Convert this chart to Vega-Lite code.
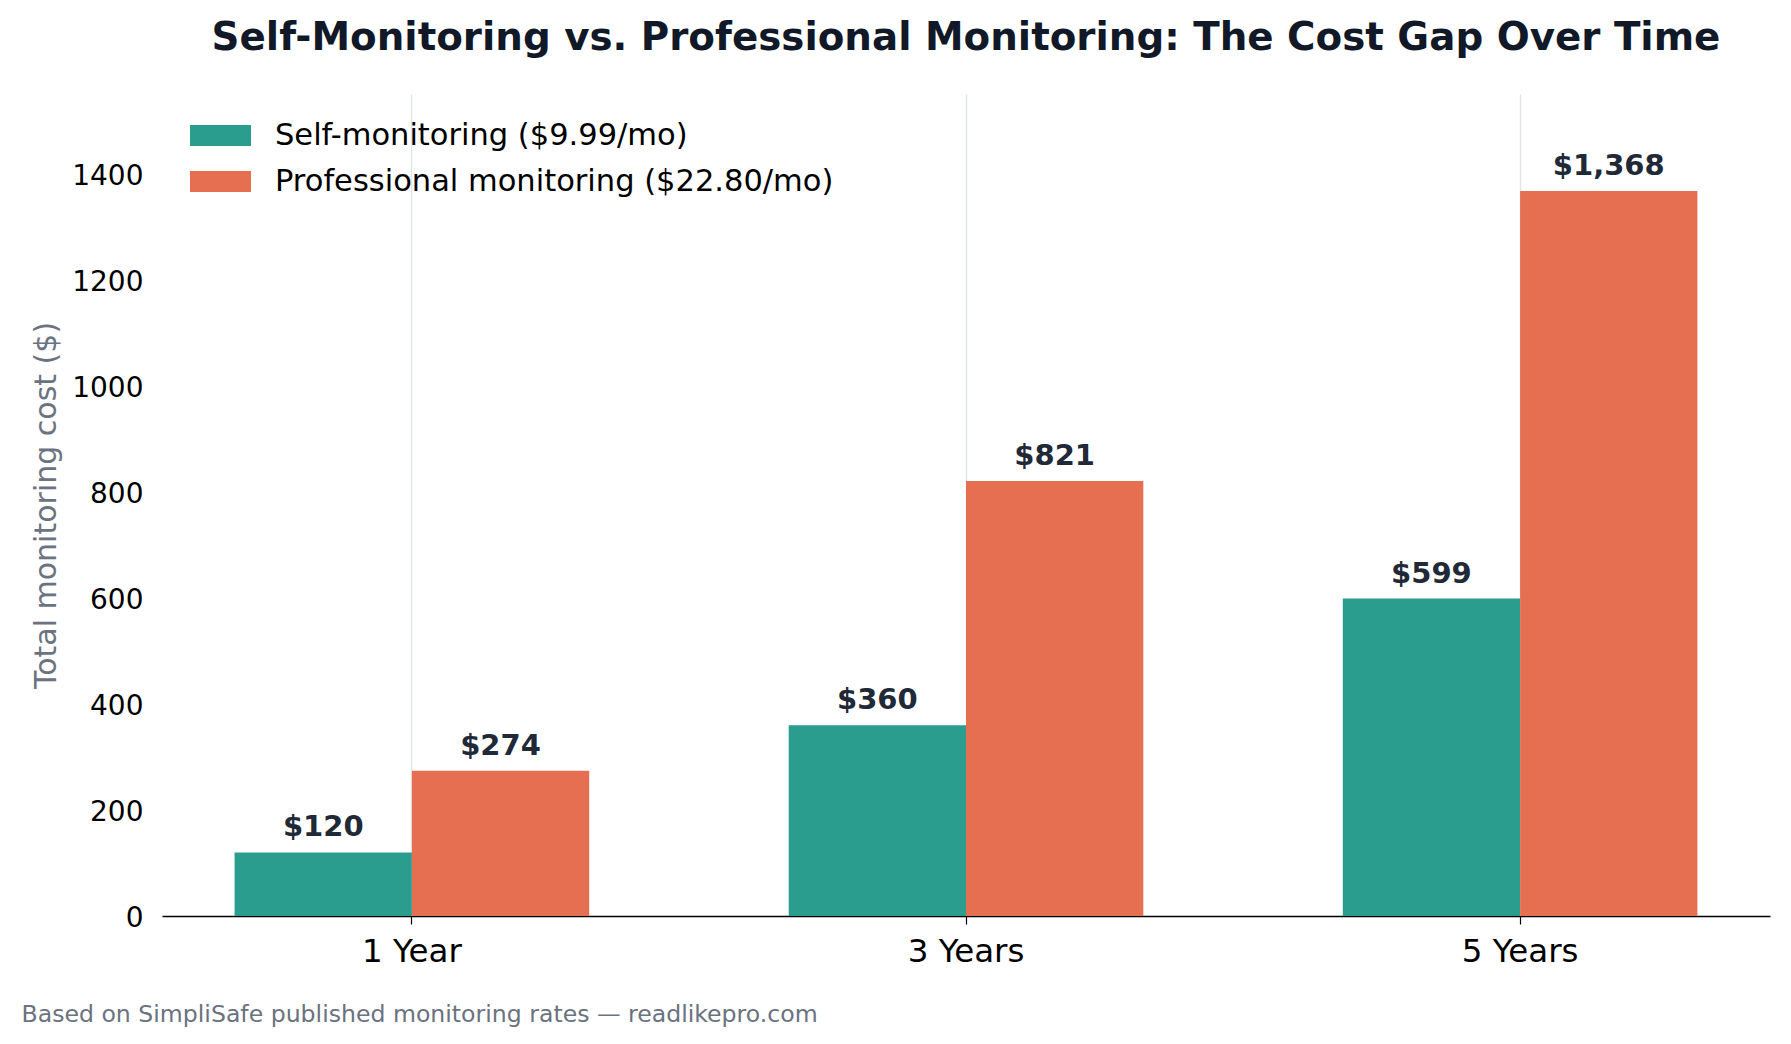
{
  "$schema": "https://vega.github.io/schema/vega-lite/v6.json",
  "autosize": {"type": "none"},
  "padding": {"left": 162, "top": 94, "right": 21, "bottom": 128},
  "width": 1608,
  "height": 822,
  "background": "white",
  "config": {
    "view": {"stroke": null},
    "font": "DejaVu Sans"
  },
  "title": {
    "text": "Self-Monitoring vs. Professional Monitoring: The Cost Gap Over Time",
    "font": "DejaVu Sans",
    "fontSize": 38.8,
    "fontWeight": "bold",
    "color": "#111827",
    "anchor": "middle",
    "offset": 36
  },
  "data": {
    "values": [
      {"period": "1 Year", "plan": "Self-monitoring ($9.99/mo)", "cost": 120},
      {"period": "1 Year", "plan": "Professional monitoring ($22.80/mo)", "cost": 274},
      {"period": "3 Years", "plan": "Self-monitoring ($9.99/mo)", "cost": 360},
      {"period": "3 Years", "plan": "Professional monitoring ($22.80/mo)", "cost": 821},
      {"period": "5 Years", "plan": "Self-monitoring ($9.99/mo)", "cost": 599},
      {"period": "5 Years", "plan": "Professional monitoring ($22.80/mo)", "cost": 1368}
    ]
  },
  "encoding": {
    "x": {
      "field": "period",
      "type": "nominal",
      "sort": ["1 Year", "3 Years", "5 Years"],
      "scale": {"paddingInner": 0.36, "paddingOuter": 0.131},
      "axis": {
        "title": "Based on SimpliSafe published monitoring rates — readlikepro.com",
        "titleFont": "DejaVu Sans",
        "titleFontSize": 23.6,
        "titleFontWeight": "normal",
        "titleColor": "#6b7280",
        "titleAnchor": "start",
        "titleAlign": "left",
        "titleX": -141,
        "titleY": 86,
        "labelAngle": 0,
        "labelFont": "DejaVu Sans",
        "labelFontSize": 32.5,
        "labelColor": "#000000",
        "labelPadding": 11,
        "domainColor": "#000000",
        "domainWidth": 1.6,
        "tickColor": "#000000",
        "tickSize": 8,
        "tickWidth": 1.2,
        "bandPosition": 0.5,
        "grid": true,
        "gridColor": "#e2e4e8",
        "gridWidth": 1.4,
        "zindex": 0
      }
    },
    "xOffset": {
      "field": "plan",
      "type": "nominal",
      "sort": ["Self-monitoring ($9.99/mo)", "Professional monitoring ($22.80/mo)"],
      "scale": {"paddingInner": 0, "paddingOuter": 0}
    },
    "y": {
      "field": "cost",
      "type": "quantitative",
      "scale": {"domain": [0, 1551], "nice": false},
      "axis": {
        "title": "Total monitoring cost ($)",
        "titleFont": "DejaVu Sans",
        "titleFontSize": 30,
        "titleFontWeight": "normal",
        "titleColor": "#6b7280",
        "titlePadding": 10,
        "values": [0, 200, 400, 600, 800, 1000, 1200, 1400],
        "format": "d",
        "labelFont": "DejaVu Sans",
        "labelFontSize": 28,
        "labelColor": "#000000",
        "labelPadding": 19,
        "labelOffset": 2,
        "ticks": false,
        "domain": false,
        "grid": false
      }
    }
  },
  "layer": [
    {
      "mark": {"type": "bar"},
      "encoding": {
        "color": {
          "field": "plan",
          "type": "nominal",
          "scale": {
            "domain": ["Self-monitoring ($9.99/mo)", "Professional monitoring ($22.80/mo)"],
            "range": ["#2a9d8f", "#e76f51"]
          },
          "legend": {
            "title": null,
            "orient": "none",
            "legendX": 28,
            "legendY": 11,
            "symbolType": "M-1,-0.344L1,-0.344L1,0.344L-1,0.344Z",
            "symbolSize": 3721,
            "symbolStrokeWidth": 0,
            "symbolOpacity": 1,
            "labelFont": "DejaVu Sans",
            "labelFontSize": 30.5,
            "labelColor": "#000000",
            "labelOffset": 24,
            "labelLimit": 1000,
            "rowPadding": -4
          }
        }
      }
    },
    {
      "mark": {
        "type": "text",
        "baseline": "bottom",
        "dy": -10,
        "font": "DejaVu Sans",
        "fontSize": 29,
        "fontWeight": "bold",
        "color": "#1f2937"
      },
      "encoding": {
        "text": {"field": "cost", "type": "quantitative", "format": "$,.0f"}
      }
    }
  ]
}
